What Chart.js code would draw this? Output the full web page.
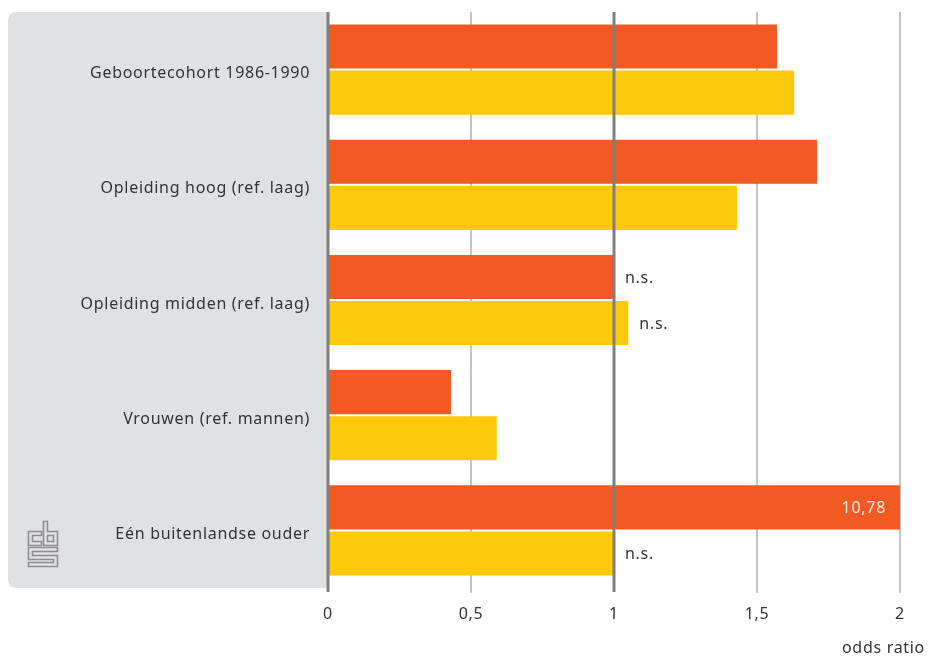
<!DOCTYPE html>
<html>
<head>
<meta charset="utf-8">
<script src="https://cdn.jsdelivr.net/npm/chart.js@4.4.1/dist/chart.umd.min.js"></script>
<style>
  html, body { margin: 0; padding: 0; background: #ffffff; }
  #wrap { width: 930px; height: 657px; }
</style>
</head>
<body>
<div id="wrap"><canvas id="c" width="930" height="657"></canvas></div>
<script>
// ---- data ----
const categories = [
  'Geboortecohort 1986-1990',
  'Opleiding hoog (ref. laag)',
  'Opleiding midden (ref. laag)',
  'Vrouwen (ref. mannen)',
  'Eén buitenlandse ouder'
];
const orangeValues = [1.57, 1.71, 1.00, 0.43, 10.78];
const yellowValues = [1.63, 1.43, 1.05, 0.59, 1.00];
const orangeNotes = ['', '', 'n.s.', '', '10,78'];
const yellowNotes = ['', '', 'n.s.', '', 'n.s.'];
const xTicks = [0, 0.5, 1, 1.5, 2];
const axisTitle = 'odds ratio';

const FONT = '"Noto Sans", "Open Sans", sans-serif';
const FSIZE = 16;
const SPACING = '0.7px';
const TEXT = '#333333';
const ORANGE = '#f15a22';
const YELLOW = '#ffc90b';

const panelPlugin = {
  id: 'panel',
  beforeUpdate(chart) { chart.ctx.letterSpacing = SPACING; },
  beforeDraw(chart) {
    const ctx = chart.ctx;
    ctx.letterSpacing = SPACING;
    const a = chart.chartArea;
    const x0 = 8, y0 = a.top, x1 = a.left, y1 = a.bottom, r = 9;
    ctx.save();
    ctx.fillStyle = '#e0e1e3';
    ctx.beginPath();
    ctx.moveTo(x0 + r, y0);
    ctx.lineTo(x1, y0);
    ctx.lineTo(x1, y1);
    ctx.lineTo(x0 + r, y1);
    ctx.quadraticCurveTo(x0, y1, x0, y1 - r);
    ctx.lineTo(x0, y0 + r);
    ctx.quadraticCurveTo(x0, y0, x0 + r, y0);
    ctx.closePath();
    ctx.fill();
    // cbs logo
    ctx.strokeStyle = '#8e8e8e';
    ctx.lineWidth = 1.6;
    ctx.lineJoin = 'miter';
    const poly = (pts) => {
      ctx.beginPath();
      ctx.moveTo(pts[0][0], pts[0][1]);
      for (let i = 1; i < pts.length; i++) ctx.lineTo(pts[i][0], pts[i][1]);
      ctx.closePath();
      ctx.stroke();
    };
    // c
    poly([[28.5,531.5],[41.5,531.5],[41.5,535.5],[32.5,535.5],[32.5,541.5],[41.5,541.5],[41.5,545.5],[28.5,545.5]]);
    // b
    poly([[43.5,521.5],[47.5,521.5],[47.5,531.5],[57.5,531.5],[57.5,545.5],[43.5,545.5]]);
    poly([[47.5,535.5],[53.5,535.5],[53.5,541.5],[47.5,541.5]]);
    // S
    poly([[28.5,547.5],[57.5,547.5],[57.5,551.5],[32.5,551.5],[32.5,555.5],[57.5,555.5],[57.5,566.5],[28.5,566.5],[28.5,562.5],[53.5,562.5],[53.5,559.5],[28.5,559.5]]);
    ctx.restore();
  },
  afterDatasetsDraw(chart) {
    const ctx = chart.ctx;
    const a = chart.chartArea;
    const xs = chart.scales.x;
    ctx.save();
    // emphasised reference lines at 0 and 1
    ctx.strokeStyle = '#7f7f7f';
    ctx.lineWidth = 3;
    [0, 1].forEach(v => {
      const px = Math.round(xs.getPixelForValue(v));
      ctx.beginPath();
      ctx.moveTo(px, a.top);
      ctx.lineTo(px, a.bottom + 4);
      ctx.stroke();
    });
    // annotations
    ctx.font = FSIZE + 'px ' + FONT;
    ctx.textBaseline = 'middle';
    const drawNotes = (dsIndex, notes, values) => {
      const meta = chart.getDatasetMeta(dsIndex);
      meta.data.forEach((bar, i) => {
        const t = notes[i];
        if (!t) return;
        if (values[i] > xs.max) {
          ctx.fillStyle = 'rgba(255,255,255,0.88)';
          ctx.textAlign = 'right';
          ctx.fillText(t, a.right - 14, bar.y + 1);
        } else {
          ctx.fillStyle = TEXT;
          ctx.textAlign = 'left';
          ctx.fillText(t, Math.max(bar.x, xs.getPixelForValue(1)) + 11, bar.y + 1);
        }
      });
    };
    drawNotes(0, orangeNotes, orangeValues);
    drawNotes(1, yellowNotes, yellowValues);
    ctx.restore();
  },
  afterDraw(chart) {
    const ctx = chart.ctx;
    ctx.save();
    ctx.font = FSIZE + 'px ' + FONT;
    ctx.fillStyle = TEXT;
    ctx.textAlign = 'right';
    ctx.textBaseline = 'middle';
    ctx.fillText(axisTitle, 925, 648);
    ctx.restore();
  }
};

new Chart(document.getElementById('c'), {
  type: 'bar',
  data: {
    labels: categories,
    datasets: [
      { data: orangeValues, backgroundColor: ORANGE, borderWidth: 0 },
      { data: yellowValues, backgroundColor: YELLOW, borderWidth: 0 }
    ]
  },
  options: {
    indexAxis: 'y',
    responsive: false,
    animation: false,
    events: [],
    layout: { padding: { left: 8, top: 12, right: 30, bottom: 0 } },
    datasets: { bar: { categoryPercentage: 0.8, barPercentage: 0.957 } },
    plugins: { legend: { display: false }, tooltip: { enabled: false } },
    scales: {
      x: {
        min: 0, max: 2,
        afterBuildTicks(scale) { scale.ticks = xTicks.map(v => ({ value: v })); },
        afterFit(scale) { scale.height = 69; scale.paddingLeft = 0; scale.paddingRight = 0; },
        border: { display: false },
        grid: {
          color: (c) => (c.tick && (c.tick.value === 0 || c.tick.value === 1)) ? 'rgba(0,0,0,0)' : '#c4c4c4',
          lineWidth: 2,
          tickLength: 5,
          drawTicks: true
        },
        ticks: {
          padding: 12,
          color: TEXT,
          font: { family: FONT, size: FSIZE },
          callback: (v) => String(v).replace('.', ',')
        }
      },
      y: {
        afterFit(scale) { scale.width = 320; scale.paddingTop = 0; scale.paddingBottom = 0; },
        border: { display: false },
        grid: { display: false, drawTicks: false },
        ticks: {
          padding: 18,
          labelOffset: 4,
          color: TEXT,
          font: { family: FONT, size: FSIZE }
        }
      }
    }
  },
  plugins: [panelPlugin]
});
</script>
</body>
</html>
